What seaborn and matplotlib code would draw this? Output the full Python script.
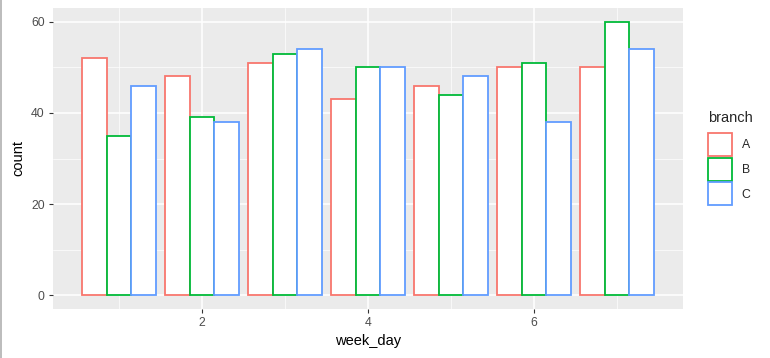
import pandas as pd
import matplotlib
matplotlib.use('Agg')
import matplotlib.pyplot as plt
import seaborn as sns
from matplotlib.patches import Patch
from matplotlib.lines import Line2D

# counts per week day and branch
week_days = [1, 2, 3, 4, 5, 6, 7]
branches = ['A', 'B', 'C']
count_a = [52, 48, 51, 43, 46, 50, 50]
count_b = [35, 39, 53, 50, 44, 51, 60]
count_c = [46, 38, 54, 50, 48, 38, 54]

df = pd.DataFrame({
    'week_day': week_days * 3,
    'branch': ['A'] * 7 + ['B'] * 7 + ['C'] * 7,
    'count': count_a + count_b + count_c,
})

pal = {'A': '#F8766D', 'B': '#00BA38', 'C': '#619CFF'}

sns.set_style('darkgrid')
plt.rcParams['font.family'] = ['Liberation Sans', 'DejaVu Sans']

fig = plt.figure(figsize=(7.7, 3.58), dpi=100)
ax = fig.add_axes([53 / 770, 1 - 309 / 358, 630 / 770, 301 / 358])

sns.barplot(data=df, x='week_day', y='count', hue='branch', palette=pal,
            native_scale=True, width=0.9, fill=False, linewidth=1.3,
            legend=False, ax=ax)
for p in ax.patches:
    p.set_facecolor('white')
    p.set_zorder(3)

ax.set_facecolor('#EBEBEB')
for s in ax.spines.values():
    s.set_visible(False)
ax.set_xlim(0.205, 7.795)
ax.set_ylim(-3, 63)
ax.set_xticks([2, 4, 6])
ax.set_xticks([1, 3, 5, 7], minor=True)
ax.set_yticks([0, 20, 40, 60])
ax.set_yticks([10, 30, 50], minor=True)
ax.grid(which='major', color='white', linewidth=1.1)
ax.grid(which='minor', color='white', linewidth=0.5)
ax.set_axisbelow(True)
ax.tick_params(which='major', bottom=True, left=True, length=3, width=0.8,
               color='#333333', labelsize=8.8, labelcolor='#4D4D4D', pad=3)
ax.tick_params(which='minor', bottom=False, left=False, length=0)
ax.set_xlabel('week_day', fontsize=10.5, color='black', labelpad=3)
ax.set_ylabel('count', fontsize=10.5, color='black', labelpad=4)

# legend: title as its own text, keys below it
fig.text(708 / 770, 1 - 118 / 358, 'branch', fontsize=10.5, ha='left', va='center')
handles = [Patch(facecolor='white', edgecolor=pal[b], linewidth=1.3) for b in branches]
fig.legend(handles, branches, loc='upper left',
           bbox_to_anchor=(708 / 770, 1 - 133 / 358), frameon=False,
           fontsize=8.8, handlelength=1.95, handleheight=2.5,
           handletextpad=0.8, labelspacing=0.15, borderaxespad=0,
           borderpad=0)

fig.add_artist(Line2D([0.8 / 770, 0.8 / 770], [0, 1], color='#B0B0B0', linewidth=1.2))

fig.savefig('out.png', dpi=100)
